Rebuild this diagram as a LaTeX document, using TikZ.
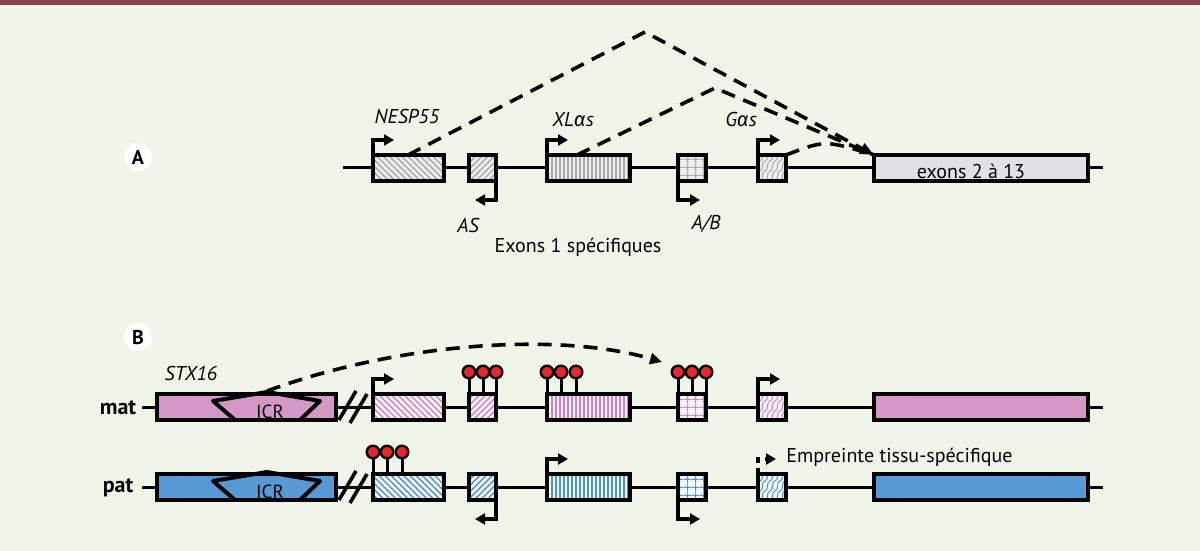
\documentclass[tikz,border=0pt]{standalone}
\usepackage{fontspec}
\setmainfont{PT Sans}
\newfontfamily\grk{Fira Sans}
\usetikzlibrary{patterns.meta,arrows.meta,calc}
\definecolor{bg}{HTML}{EFF6E9}
\definecolor{stripe}{HTML}{8E4152}
\definecolor{matc}{HTML}{D598C6}
\definecolor{patc}{HTML}{5699D4}
\definecolor{matl}{HTML}{CC86BD}
\definecolor{patl}{HTML}{4A92D3}
\definecolor{matf}{HTML}{F8F1F7}
\definecolor{patf}{HTML}{F4F8FD}
\definecolor{grayf}{HTML}{EEEEEE}
\definecolor{grayl}{HTML}{A8A8A8}
\definecolor{exgray}{HTML}{E1E1E3}
\definecolor{lred}{HTML}{E8262B}
\pgfdeclarepattern{
  name=Waves,
  type=uncolored,
  bottom left={\pgfpoint{-0.2pt}{-0.2pt}},
  top right={\pgfpoint{5.2pt}{5.2pt}},
  tile size={\pgfpoint{5pt}{5pt}},
  code={
    \pgfsetlinewidth{0.5pt}
    \pgfpathmoveto{\pgfpoint{0pt}{0pt}}
    \pgfpathcurveto{\pgfpoint{2pt}{0pt}}{\pgfpoint{0.5pt}{5pt}}{\pgfpoint{2.5pt}{5pt}}
    \pgfpathmoveto{\pgfpoint{2.5pt}{0pt}}
    \pgfpathcurveto{\pgfpoint{4.5pt}{0pt}}{\pgfpoint{3pt}{5pt}}{\pgfpoint{5pt}{5pt}}
    \pgfusepath{stroke}
  }
}
\newcommand{\lblfont}{\fontsize{10}{12}\selectfont}
\newcommand{\exon}[5]{\node[exbox,#5,minimum width={(#3-#2)*0.5pt}] (#1) at ({(#2+#3)/2},#4) {};}
\tikzset{
  exbox/.style={draw=black, line width=2pt, inner sep=0pt, outer sep=0pt, minimum height=13pt},
  backbone/.style={line width=1.5pt},
  prom/.style={line width=1.6pt, -{Triangle[length=5pt,width=5.5pt]}},
  splice/.style={line width=1.8pt, dash pattern=on 7pt off 4.5pt},
  lolli/.style={circle, draw=black, fill=lred, line width=1.2pt, minimum size=6.3pt, inner sep=0pt},
  stem/.style={line width=1.5pt},
  lab/.style={font=\lblfont, inner sep=0pt},
  ilab/.style={font=\lblfont\itshape, inner sep=0pt},
  blab/.style={font=\fontsize{11}{13}\selectfont\bfseries, inner sep=0pt},
  panel/.style={circle, fill=white, minimum size=14pt, inner sep=0pt, font=\fontsize{10}{12}\selectfont\bfseries},
  brk/.style={line width=1.8pt},
  hNW/.style={pattern={Lines[angle=-45,distance=2.2pt,line width=0.7pt]}},
  hNE/.style={pattern={Lines[angle=45,distance=2.2pt,line width=0.7pt]}},
  hV/.style={pattern={Lines[angle=90,distance=2pt,line width=0.6pt]}},
  hG/.style={pattern={Hatch[angle=0,distance=4pt,line width=0.5pt]}},
  hW/.style={pattern=Waves},
  sA/.style={preaction={fill=grayf}, pattern color=grayl},
  sM/.style={preaction={fill=matf}, pattern color=matl},
  sP/.style={preaction={fill=patf}, pattern color=patl},
}
\begin{document}
\begin{tikzpicture}[x=0.5pt,y=-0.5pt]
\useasboundingbox (0,0) rectangle (1200,551);
\fill[bg] (0,0) rectangle (1200,551);
\fill[stripe] (0,0) rectangle (1200,5);

% ---------------- Panel A ----------------
\node[panel] (pA) at (138,157) {A};
\coordinate (As) at (343,168);
\coordinate (Ae) at (1103,168);
\draw[backbone] (As) -- (Ae);
\exon{nespA}{373}{444}{168}{sA,hNW}
\exon{asA}{469}{496}{168}{sA,hNE}
\exon{xlA}{547}{630}{168}{sA,hV}
\exon{abA}{678}{706}{168}{sA,hG}
\exon{gasA}{758}{786}{168}{sA,hW}
\exon{exA}{874}{1088}{168}{fill=exgray}
\node[lab] (tex) at (971,171) {exons 2 à 13};

\draw[prom] (nespA.north west) -- ++(0,-15) -- ++(21,0);
\draw[prom] (asA.south east) -- ++(0,19) -- ++(-21,0);
\draw[prom] (xlA.north west) -- ++(0,-15) -- ++(21,0);
\draw[prom] (abA.south west) -- ++(0,19) -- ++(22,0);
\draw[prom] (gasA.north west) -- ++(0,-15) -- ++(22,0);

\node[ilab] (tNESP) at (407,117) {NESP55};
\node[ilab] (tAS) at (468,226) {AS};
\node[ilab] (tXL) at (573,120) {XL{\grk\itshape α}s};
\node[ilab] (tGas) at (741,120) {G{\grk\itshape α}s};
\node[ilab] (tAB) at (706,224) {A/B};
\node[lab] (tEx1) at (578,247) {Exons 1 spécifiques};

\coordinate (apex1) at (645,32);
\coordinate (apex2) at (715,88);
\draw[splice, -{Triangle[length=7pt,width=5.5pt]}] ($(nespA.north west)+(35,0)$) -- (apex1) -- (exA.north west);
\draw[splice] ($(xlA.north west)+(30,0)$) -- (apex2) -- (exA.north west);
\draw[splice] (gasA.north east) .. controls (825,140) .. (exA.north west);

% ---------------- Panel B ----------------
\node[panel] (pB) at (138,337) {B};
\node[blab] (tmat) at (118,408) {mat};
\node[blab] (tpat) at (118,488) {pat};
\node[ilab] (tSTX) at (191,373) {STX16};

% mat row
\coordinate (Ms) at (142,407);
\coordinate (Me) at (1103,407);
\draw[backbone] (Ms) -- (Me);
\exon{stxM}{157}{336}{407}{fill=matc}
\exon{nespM}{373}{444}{407}{sM,hNW}
\exon{asM}{469}{496}{407}{sM,hNE}
\exon{xlM}{547}{630}{407}{sM,hV}
\exon{abM}{678}{706}{407}{sM,hG}
\exon{gasM}{758}{786}{407}{sM,hW}
\exon{exM}{874}{1088}{407}{fill=matc}
\node[lab, font=\fontsize{9.5}{11}\selectfont] (icrMt) at (270,412) {ICR};
\draw[line width=2pt, line join=round] (235,420) -- (213,401) -- (267,392) -- (320,401) -- (300,420);
\coordinate (icrM) at (267,391);
\draw[brk] (339,420) -- (356,391);
\draw[brk] (350,423) -- (367,394);
\draw[prom] (nespM.north west) -- ++(0,-15) -- ++(21,0);
\draw[prom] (gasM.north west) -- ++(0,-15) -- ++(22,0);
\coordinate (tipM) at (662,362);
\draw[splice, -{Triangle[length=6pt,width=5.5pt]}] (icrM) .. controls (400,342) and (560,332) .. (tipM);

% lollipops mat
\foreach \x/\n in {469/a,483/b,496/c,547/d,561/e,576/f,678/g,692/h,706/i} {
  \draw[stem] (\x,394) -- (\x,372);
  \node[lolli] (lm\n) at (\x,372) {};
}

% pat row
\coordinate (Ps) at (142,487);
\coordinate (Pe) at (1103,487);
\draw[backbone] (Ps) -- (Pe);
\exon{stxP}{157}{336}{487}{fill=patc}
\exon{nespP}{373}{444}{487}{sP,hNW}
\exon{asP}{469}{496}{487}{sP,hNE}
\exon{xlP}{547}{630}{487}{sP,hV}
\exon{abP}{678}{706}{487}{sP,hG}
\exon{gasP}{758}{786}{487}{sP,hW}
\exon{exP}{874}{1088}{487}{fill=patc}
\node[lab, font=\fontsize{9.5}{11}\selectfont] (icrPt) at (270,492) {ICR};
\draw[line width=2pt, line join=round] (235,500) -- (213,481) -- (267,472) -- (320,481) -- (300,500);
\draw[brk] (339,500) -- (356,471);
\draw[brk] (350,503) -- (367,474);
\draw[prom] (asP.south east) -- ++(0,19) -- ++(-21,0);
\draw[prom] (xlP.north west) -- ++(0,-15) -- ++(21,0);
\draw[prom] (abP.south west) -- ++(0,19) -- ++(22,0);
\draw[prom, dash pattern=on 3pt off 2.5pt] (gasP.north west) -- ++(0,-15) -- ++(18,0);
\node[lab, anchor=west] (tEmp) at (786,457) {Empreinte tissu-spécifique};

\foreach \x/\n in {373/a,387/b,402/c} {
  \draw[stem] (\x,474) -- (\x,452);
  \node[lolli] (lp\n) at (\x,452) {};
}
\end{tikzpicture}
\end{document}
